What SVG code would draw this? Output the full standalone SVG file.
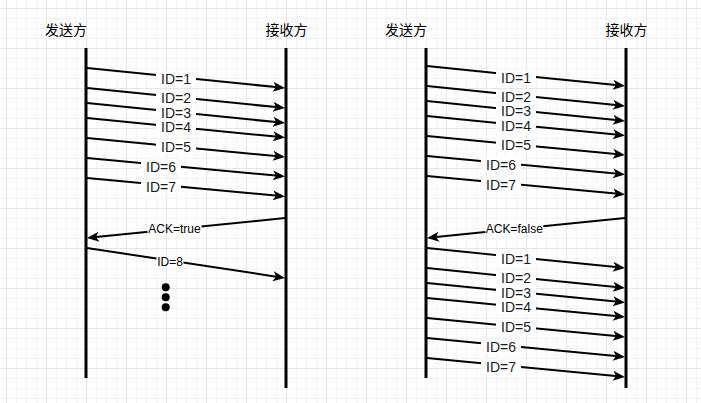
<svg xmlns="http://www.w3.org/2000/svg" width="701" height="403" viewBox="0 0 701 403">
<style>
.life{stroke:#000;stroke-width:3;fill:none}
.msg{stroke:#000;stroke-width:2;fill:none;marker-end:url(#arr)}
.hd{font-family:"Noto Sans CJK SC","Liberation Sans",sans-serif;font-size:14px;fill:#000;text-anchor:middle}
.lb{font-family:"Liberation Sans",Arial,sans-serif;font-size:14px;fill:#1a1a1a;text-anchor:middle}
.lbs{font-family:"Liberation Sans",Arial,sans-serif;font-size:12px;fill:#000;text-anchor:middle}
.bg{fill:#fff}
</style>
<defs>
<pattern id="grid" width="40" height="40" patternUnits="userSpaceOnUse" x="6" y="8">
<path d="M10.5 0V40M20.5 0V40M30.5 0V40M0 10.5H40M0 20.5H40M0 30.5H40" stroke="#f3f3f3" stroke-width="1" fill="none"/>
<path d="M0.5 0V40M0 0.5H40" stroke="#e6e6e6" stroke-width="1" fill="none"/>
</pattern>
<marker id="arr" markerUnits="userSpaceOnUse" markerWidth="12" markerHeight="10" refX="8" refY="5" orient="auto" overflow="visible">
<path d="M12,5 L0,0 L3,5 L0,10 Z" fill="#000"/>
</marker>
</defs>
<rect width="701" height="403" fill="#fff"/>
<rect width="701" height="403" fill="url(#grid)"/>

<g id="left-sender">
<text class="hd" x="66" y="34.5">发送方</text>
<line class="life" x1="86" y1="48" x2="86" y2="378"/>
</g>
<g id="left-receiver">
<text class="hd" x="286.5" y="34.5">接收方</text>
<line class="life" x1="286" y1="48" x2="286" y2="388"/>
</g>
<g id="right-sender">
<text class="hd" x="406" y="34.5">发送方</text>
<line class="life" x1="426" y1="48" x2="426" y2="378"/>
</g>
<g id="right-receiver">
<text class="hd" x="626.5" y="34.5">接收方</text>
<line class="life" x1="626" y1="48" x2="626" y2="388"/>
</g>
<g id="ellipsis">
<circle cx="165.7" cy="287.3" r="4" fill="#000"/>
<circle cx="165.7" cy="297.3" r="4" fill="#000"/>
<circle cx="165.7" cy="307.3" r="4" fill="#000"/>
</g>

<g id="connectors">
<!-- left -->
<line class="msg" x1="87" y1="68" x2="281" y2="87.6"/>
<line class="msg" x1="87" y1="88" x2="281" y2="107.6"/>
<line class="msg" x1="87" y1="103" x2="281" y2="122.6"/>
<line class="msg" x1="87" y1="118" x2="281" y2="137.1"/>
<line class="msg" x1="87" y1="138" x2="281" y2="156.6"/>
<line class="msg" x1="87" y1="158" x2="281" y2="176.1"/>
<line class="msg" x1="87" y1="178" x2="281" y2="196.1"/>
<line class="msg" x1="285" y1="218" x2="91" y2="237.6"/>
<line class="msg" x1="87" y1="248" x2="281" y2="277.4"/>
<!-- right -->
<line class="msg" x1="427" y1="66" x2="621" y2="85.6"/>
<line class="msg" x1="427" y1="86" x2="621" y2="105.6"/>
<line class="msg" x1="427" y1="101" x2="621" y2="120.6"/>
<line class="msg" x1="427" y1="116" x2="621" y2="135.1"/>
<line class="msg" x1="427" y1="136" x2="621" y2="154.6"/>
<line class="msg" x1="427" y1="156" x2="621" y2="174.1"/>
<line class="msg" x1="427" y1="176" x2="621" y2="194.1"/>
<line class="msg" x1="625" y1="218" x2="431" y2="237.6"/>
<line class="msg" x1="427" y1="248" x2="621" y2="267.6"/>
<line class="msg" x1="427" y1="268" x2="621" y2="287.6"/>
<line class="msg" x1="427" y1="283" x2="621" y2="302.1"/>
<line class="msg" x1="427" y1="298" x2="621" y2="316.6"/>
<line class="msg" x1="427" y1="318" x2="621" y2="336.6"/>
<line class="msg" x1="427" y1="338" x2="621" y2="356.6"/>
<line class="msg" x1="427" y1="358" x2="621" y2="376.6"/>

<!-- left labels -->
<rect class="bg" x="156" y="72" width="40" height="15"/><text class="lb" x="176" y="84.3">ID=1</text>
<rect class="bg" x="156" y="91" width="40" height="15"/><text class="lb" x="176" y="103.3">ID=2</text>
<rect class="bg" x="156" y="106" width="40" height="15"/><text class="lb" x="176" y="118.3">ID=3</text>
<rect class="bg" x="156" y="120" width="40" height="15"/><text class="lb" x="176" y="132.3">ID=4</text>
<rect class="bg" x="156" y="139" width="40" height="15"/><text class="lb" x="176" y="151.7">ID=5</text>
<rect class="bg" x="141" y="159" width="40" height="15"/><text class="lb" x="161" y="171.7">ID=6</text>
<rect class="bg" x="141" y="179" width="40" height="15"/><text class="lb" x="161" y="191.7">ID=7</text>
<rect class="bg" x="147.5" y="223" width="54" height="12"/><text class="lbs" x="174.5" y="233.3">ACK=true</text>
<rect class="bg" x="156.5" y="256" width="27" height="12"/><text class="lbs" x="170" y="266.3">ID=8</text>

<!-- right labels -->
<rect class="bg" x="496" y="70" width="40" height="15"/><text class="lb" x="516" y="82.7">ID=1</text>
<rect class="bg" x="496" y="89" width="40" height="15"/><text class="lb" x="516" y="101.7">ID=2</text>
<rect class="bg" x="496" y="104" width="40" height="15"/><text class="lb" x="516" y="116">ID=3</text>
<rect class="bg" x="496" y="118" width="40" height="15"/><text class="lb" x="516" y="130.7">ID=4</text>
<rect class="bg" x="496" y="137" width="40" height="15"/><text class="lb" x="516" y="150">ID=5</text>
<rect class="bg" x="481" y="157" width="40" height="15"/><text class="lb" x="501" y="170">ID=6</text>
<rect class="bg" x="481" y="177" width="40" height="15"/><text class="lb" x="501" y="190">ID=7</text>
<rect class="bg" x="485.3" y="223" width="58" height="12"/><text class="lbs" x="514.3" y="233.3">ACK=false</text>
<rect class="bg" x="496" y="252" width="40" height="15"/><text class="lb" x="516" y="264.3">ID=1</text>
<rect class="bg" x="496" y="271" width="40" height="15"/><text class="lb" x="516" y="283.3">ID=2</text>
<rect class="bg" x="496" y="286" width="40" height="15"/><text class="lb" x="516" y="298.3">ID=3</text>
<rect class="bg" x="496" y="300" width="40" height="15"/><text class="lb" x="516" y="312.3">ID=4</text>
<rect class="bg" x="496" y="319" width="40" height="15"/><text class="lb" x="516" y="331.7">ID=5</text>
<rect class="bg" x="481" y="339" width="40" height="15"/><text class="lb" x="501" y="351.7">ID=6</text>
<rect class="bg" x="481" y="359" width="40" height="15"/><text class="lb" x="501" y="371.7">ID=7</text>
</g>
</svg>
